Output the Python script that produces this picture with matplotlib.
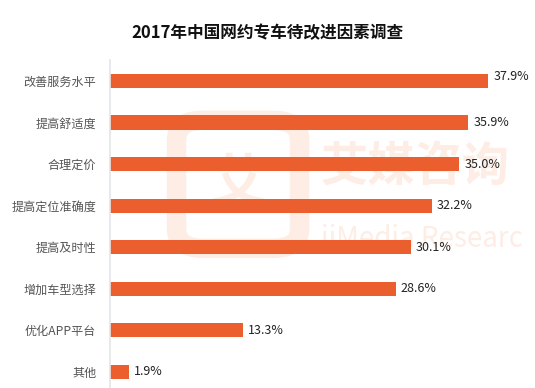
import matplotlib.pyplot as plt
from matplotlib.patches import FancyBboxPatch

plt.rcParams['font.family'] = ['Noto Sans CJK SC', 'DejaVu Sans']

# data
factors = ['改善服务水平', '提高舒适度', '合理定价', '提高定位准确度',
           '提高及时性', '增加车型选择', '优化APP平台', '其他']
values = [37.9, 35.9, 35.0, 32.2, 30.1, 28.6, 13.3, 1.9]
title = '2017年中国网约专车待改进因素调查'

bar_color = '#EB5F2F'

fig = plt.figure(figsize=(5.35, 3.88), dpi=100)

ax = fig.add_axes([0.206, 0.0, 0.774, 328 / 388])
ax.patch.set_alpha(0)

# faint watermark behind the bars
wm = '#FDEDE5'
ax.add_patch(FancyBboxPatch((0.33, 0.36), 0.23, 0.33, boxstyle='round,pad=0.0,rounding_size=0.05',
                            transform=fig.transFigure, facecolor='none',
                            edgecolor=wm, linewidth=14, zorder=0, clip_on=False))
ax.text(0.445, 0.525, '艾', fontsize=40, fontweight='bold', color=wm,
        ha='center', va='center', zorder=0, transform=fig.transFigure)
ax.text(0.60, 0.57, '艾媒咨询', fontsize=34, fontweight='bold', color=wm,
        ha='left', va='center', zorder=0, transform=fig.transFigure, clip_on=True)
ax.text(0.60, 0.385, 'iiMedia Research', fontsize=20, color=wm,
        ha='left', va='center', zorder=0, transform=fig.transFigure, clip_on=True)

pos = list(range(len(factors)))
ax.barh(pos, values, height=0.34, color=bar_color, zorder=2)

for p, v in zip(pos, values):
    ax.text(v + 0.5, p - (0.12 if p == 0 else 0), f'{v:.1f}%', va='center', ha='left',
            fontsize=9, color='#222222', zorder=3)

ax.set_xlim(0, 41.5)
ax.set_ylim(7.385, -0.505)
ax.set_yticks(pos)
ax.set_yticklabels(factors, fontsize=8.7, color='#555555')
ax.tick_params(axis='y', length=0, pad=10)
ax.set_xticks([])
for s in ['top', 'right', 'bottom']:
    ax.spines[s].set_visible(False)
ax.spines['left'].set_color('#E3E6EA')
ax.spines['left'].set_linewidth(1.2)

fig.text(0.5, 1 - 33 / 388, title, fontsize=12, fontweight='bold', color='#111111',
         ha='center', va='center')

fig.savefig('out.png', dpi=100)
